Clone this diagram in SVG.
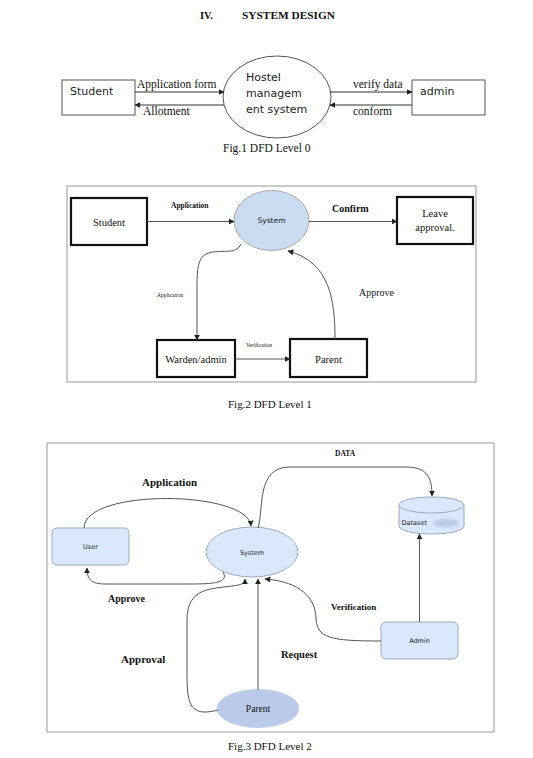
<svg xmlns="http://www.w3.org/2000/svg" width="533" height="758" viewBox="0 0 533 758">
<style>
.serif{font-family:"Liberation Serif","Times New Roman",serif;fill:#111}
.sans{font-family:"DejaVu Sans","Liberation Sans",sans-serif;fill:#222}
.b{font-weight:bold}
.ln{fill:none;stroke:#333;stroke-width:1.2}
.ln2{fill:none;stroke:#555;stroke-width:1}
.frame{fill:none;stroke:#b0b0b0;stroke-width:1.3}
.box1{fill:#fff;stroke:#555;stroke-width:1}
.box2{fill:#fff;stroke:#111;stroke-width:2.2}
.blue{fill:#dae8fc;stroke:#9aa9bd;stroke-width:1}
</style>
<defs>
<marker id="ah" viewBox="0 0 10 10" refX="9" refY="5" markerWidth="6" markerHeight="6" orient="auto" markerUnits="userSpaceOnUse">
<path d="M0,0 L10,5 L0,10 z" fill="#222"/>
</marker>
<filter id="blur" x="-20%" y="-50%" width="140%" height="200%"><feGaussianBlur stdDeviation="1.5"/></filter>
</defs>
<rect width="533" height="758" fill="#fff"/>

<text class="serif b" x="200" y="19" font-size="10.5">IV.</text>
<text class="serif b" x="242" y="19" font-size="10.5" textLength="93" lengthAdjust="spacingAndGlyphs">SYSTEM DESIGN</text>

<!-- Fig 1 -->
<g id="f1-student"><rect class="box1" x="62" y="80" width="73" height="35"/><text class="sans" x="70" y="95" font-size="11">Student</text></g>
<g id="f1-system"><ellipse cx="277" cy="97" rx="54" ry="41" fill="#fff" stroke="#555" stroke-width="1"/>
<text class="sans" x="246" y="81" font-size="11">Hostel</text>
<text class="sans" x="246" y="97" font-size="11">managem</text>
<text class="sans" x="246" y="113" font-size="11">ent system</text></g>
<g id="f1-admin"><rect class="box1" x="412" y="80" width="73" height="35"/><text class="sans" x="420" y="95" font-size="11">admin</text></g>
<g id="f1-connectors">
<line class="ln" x1="135" y1="92" x2="224" y2="92" marker-end="url(#ah)"/>
<line class="ln" x1="224" y1="105" x2="135" y2="105" marker-end="url(#ah)"/>
<line class="ln" x1="330" y1="92" x2="412" y2="92" marker-end="url(#ah)"/>
<line class="ln" x1="412" y1="105" x2="330" y2="105" marker-end="url(#ah)"/>
<text class="serif" x="137" y="88" font-size="11.5">Application form</text>
<text class="serif" x="143" y="115" font-size="11.5">Allotment</text>
<text class="serif" x="353" y="88" font-size="11.5">verify data</text>
<text class="serif" x="353" y="115" font-size="11.5">conform</text>
</g>
<text class="serif" x="223" y="152" font-size="11.5">Fig.1  DFD Level 0</text>

<!-- Fig 2 -->
<rect class="frame" x="67" y="186" width="409" height="196"/>
<g id="f2-student"><rect class="box2" x="71" y="198" width="76" height="47"/><text class="serif" x="109" y="226" font-size="10.5" text-anchor="middle">Student</text></g>
<g id="f2-system"><ellipse cx="271.5" cy="220.5" rx="37.5" ry="30" fill="#c9dcf2" stroke="#a8a8a8" stroke-width="1"/><text class="sans" x="271.5" y="223" font-size="7.5" text-anchor="middle" fill="#444">System</text></g>
<g id="f2-leave"><rect class="box2" x="397" y="197" width="76" height="47"/>
<text class="serif" x="435" y="217" font-size="10.5" text-anchor="middle">Leave</text>
<text class="serif" x="435" y="231" font-size="10.5" text-anchor="middle">approval.</text></g>
<g id="f2-warden"><rect class="box2" x="157" y="340" width="78" height="37"/><text class="serif" x="196" y="363" font-size="10.5" text-anchor="middle">Warden/admin</text></g>
<g id="f2-parent"><rect class="box2" x="290" y="339" width="77" height="38"/><text class="serif" x="328.5" y="363" font-size="10.5" text-anchor="middle">Parent</text></g>
<g id="f2-connectors">
<line class="ln2" x1="147" y1="221.5" x2="234" y2="221.5" marker-end="url(#ah)"/>
<line class="ln2" x1="309" y1="221.5" x2="397" y2="221.5" marker-end="url(#ah)"/>
<path class="ln2" d="M241,244 C236,256 220,248 206,254 C198,258 197,270 197,285 L197,340" marker-end="url(#ah)"/>
<line class="ln2" x1="235" y1="359" x2="290" y2="359" marker-end="url(#ah)"/>
<path class="ln2" d="M335,339 C335,300 330,262 288,251" marker-end="url(#ah)"/>
<text class="serif b" x="171" y="208" font-size="7.5">Application</text>
<text class="serif b" x="332" y="212" font-size="10">Confirm</text>
<text class="serif" x="157" y="297" font-size="5.5">Application</text>
<text class="serif" x="246" y="347" font-size="5.5">Verification</text>
<text class="serif" x="359" y="296" font-size="10">Approve</text>
</g>
<text class="serif" x="228" y="408" font-size="11">Fig.2 DFD Level 1</text>

<!-- Fig 3 -->
<rect class="frame" x="47" y="443" width="447" height="289"/>
<g id="f3-user"><rect class="blue" x="52" y="528" width="77" height="37" rx="5"/><text class="sans" x="90.5" y="549" font-size="6.5" text-anchor="middle" fill="#444">User</text></g>
<g id="f3-system"><ellipse class="blue" cx="252" cy="552" rx="46" ry="25"/><text class="sans" x="252" y="555" font-size="6.5" text-anchor="middle" fill="#444">System</text></g>
<g id="f3-dataset">
<path class="blue" d="M399,505 L399,526 A32.5,8 0 0 0 464,526 L464,505"/>
<ellipse class="blue" cx="431.5" cy="505" rx="32.5" ry="8"/>
<ellipse cx="446" cy="523" rx="13" ry="4" fill="#b8c9e6" filter="url(#blur)"/>
<text class="sans" x="401.5" y="525" font-size="6.5" fill="#444">Dataset</text>
</g>
<g id="f3-admin"><rect class="blue" x="381" y="622" width="77" height="37" rx="5"/><text class="sans" x="419.5" y="643" font-size="6.5" text-anchor="middle" fill="#444">Admin</text></g>
<g id="f3-parent"><ellipse cx="258" cy="708.5" rx="41" ry="19" fill="#b9cbe8" stroke="#c6d3e6" stroke-width="1"/><text class="serif" x="258" y="712" font-size="9.5" text-anchor="middle">Parent</text></g>
<g id="f3-connectors">
<path class="ln2" d="M84,528 C84,488 248,490 251,526" marker-end="url(#ah)"/>
<path class="ln2" d="M258,528 C264,508 256,467 290,467 L405,467 C428,467 432,478 432,496" marker-end="url(#ah)"/>
<path class="ln2" d="M223,572 C230,584 210,584 185,584 L105,584 C90,584 87,578 87,568" marker-end="url(#ah)"/>
<path class="ln2" d="M218,710 C188,718 187,702 187,670 L187,620 C187,588 210,589 232,586 C242,585 245,583 245,579" marker-end="url(#ah)"/>
<line class="ln2" x1="258" y1="690" x2="258" y2="579" marker-end="url(#ah)"/>
<path class="ln2" d="M381,641 C330,641 317,638 316,618 C315,592 292,581 265,579" marker-end="url(#ah)"/>
<line class="ln2" x1="419.5" y1="622" x2="419.5" y2="534" marker-end="url(#ah)"/>
<text class="serif b" x="335" y="456" font-size="7.5">DATA</text>
<text class="serif b" x="142" y="486" font-size="11">Application</text>
<text class="serif b" x="108" y="602" font-size="10">Approve</text>
<text class="serif b" x="121" y="663" font-size="11">Approval</text>
<text class="serif b" x="281" y="658" font-size="10.5">Request</text>
<text class="serif b" x="331" y="610" font-size="9">Verification</text>
</g>
<text class="serif" x="228" y="750" font-size="11">Fig.3 DFD Level 2</text>
</svg>
